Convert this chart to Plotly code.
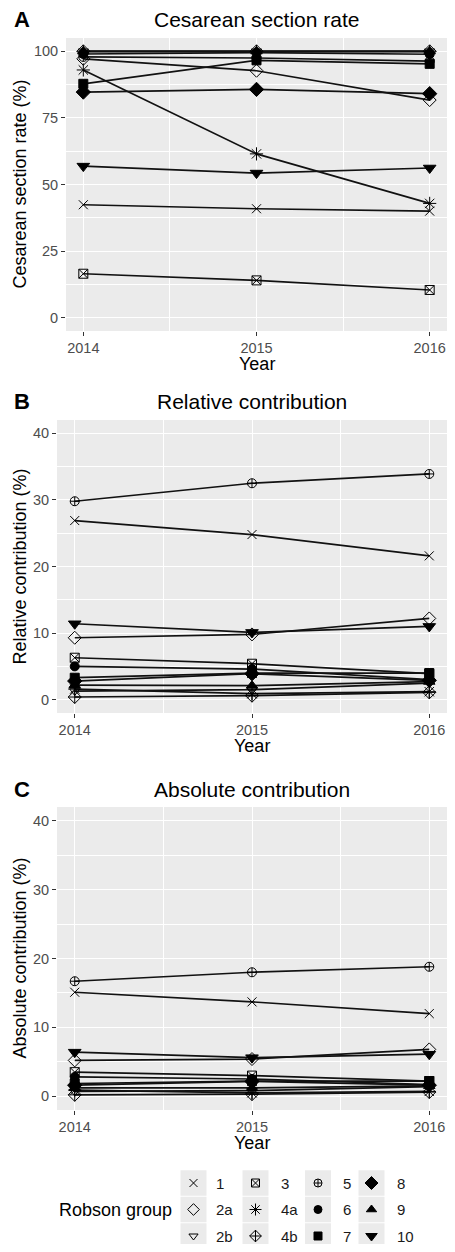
import plotly.graph_objects as go

# ---------------- data ----------------
years = [2014, 2015, 2016]
groups = ["1", "2a", "2b", "3", "4a", "4b", "5", "6", "7", "8", "9", "10"]

# Panel A: Cesarean section rate (%)  (order follows `groups`)
rate_2014 = [42.4, 97.2, 100.0, 16.5, 93.0, 100.0, 97.9, 99.0, 87.8, 84.7, 100.0, 56.9]
rate_2015 = [40.9, 92.7, 100.0, 14.0, 61.5, 100.0, 97.5, 99.5, 96.6, 85.7, 100.0, 54.3]
rate_2016 = [40.0, 81.7, 100.0, 10.4, 42.9, 100.0, 96.3, 98.9, 95.3, 84.1, 100.0, 56.2]

# Panel B: Relative contribution (%)
rel_2014 = [26.9, 9.3, 1.3, 6.3, 1.6, 0.4, 29.8, 5.0, 3.3, 2.8, 2.2, 11.4]
rel_2015 = [24.8, 9.8, 1.5, 5.4, 0.9, 0.6, 32.5, 4.6, 4.0, 3.9, 2.1, 10.1]
rel_2016 = [21.6, 12.2, 2.5, 3.9, 1.2, 1.1, 33.9, 3.0, 4.0, 2.9, 2.7, 11.0]

# Panel C: Absolute contribution (%)
abs_2014 = [15.1, 5.2, 0.7, 3.5, 0.9, 0.2, 16.7, 2.8, 1.85, 1.6, 1.2, 6.4]
abs_2015 = [13.7, 5.4, 0.8, 3.0, 0.5, 0.3, 18.0, 2.5, 2.2, 2.15, 1.2, 5.6]
abs_2016 = [12.0, 6.8, 1.4, 2.2, 0.7, 0.6, 18.8, 1.7, 2.2, 1.6, 1.5, 6.1]

panel_titles = ["Cesarean section rate", "Relative contribution", "Absolute contribution"]
panel_letters = ["A", "B", "C"]
y_titles = ["Cesarean section rate (%)", "Relative contribution (%)", "Absolute contribution (%)"]
y_ticks_a = [0, 25, 50, 75, 100]
y_ticks_bc = [0, 10, 20, 30, 40]
legend_title = "Robson group"

# ---------------- styles ----------------
symbols = ["x-thin-open", "diamond-open", "triangle-down-open", "square-x-open",
           "asterisk-open", "diamond-cross-open", "circle-cross-open", "circle",
           "square", "diamond", "triangle-up", "triangle-down"]
sizes = [9, 10, 9, 9, 11, 10, 9, 9, 9, 11, 10, 11]

PAGE_W, PAGE_H = 455, 1252
OFF = 8                      # default body margin of the html page
W, H = PAGE_W - 2 * OFF, PAGE_H - 2 * OFF
RIGHT = OFF + W              # right edge of visible figure (page px)
FONT = "Liberation Sans, Arial, Helvetica, sans-serif"
PANEL_BG = "#EBEBEB"
TICK_GREY = "#4D4D4D"


def fx(px):
    return (px - OFF) / W


def fy(py):
    return 1 - (py - OFF) / H


panels = [
    dict(x=(66, RIGHT), y=(38, 331), yr=[-5, 105], yt=y_ticks_a, ym=[12.5, 37.5, 62.5, 87.5],
         data=(rate_2014, rate_2015, rate_2016)),
    dict(x=(57, RIGHT), y=(420, 713), yr=[-2, 42], yt=y_ticks_bc, ym=[5, 15, 25, 35],
         data=(rel_2014, rel_2015, rel_2016)),
    dict(x=(57, RIGHT), y=(807, 1110), yr=[-2, 42], yt=y_ticks_bc, ym=[5, 15, 25, 35],
         data=(abs_2014, abs_2015, abs_2016)),
]

fig = go.Figure()
layout = dict(
    width=W, height=H, margin=dict(l=0, r=0, t=0, b=0),
    paper_bgcolor="white", plot_bgcolor="white", showlegend=False,
    font=dict(family=FONT, color="black"),
    shapes=[], annotations=[],
)

for i, p in enumerate(panels):
    sfx = "" if i == 0 else str(i + 1)
    xa, ya = "x" + sfx, "y" + sfx
    d14, d15, d16 = p["data"]
    # lines first
    for g in range(len(groups)):
        fig.add_trace(go.Scatter(
            x=years, y=[d14[g], d15[g], d16[g]], mode="lines",
            line=dict(color="#111111", width=1.7), xaxis=xa, yaxis=ya,
            hoverinfo="skip"))
    # then points
    for g in range(len(groups)):
        fig.add_trace(go.Scatter(
            x=years, y=[d14[g], d15[g], d16[g]], mode="markers", name=groups[g],
            marker=dict(symbol=symbols[g], size=sizes[g], color="black",
                        line=dict(color="black", width=1)),
            xaxis=xa, yaxis=ya))

    layout["xaxis" + sfx] = dict(
        domain=[fx(p["x"][0]), min(1.0, fx(p["x"][1]))], anchor=ya, range=[2013.9, 2016.1],
        tickvals=years, ticktext=[str(v) for v in years],
        ticks="outside", ticklen=4, tickwidth=1, tickcolor="#333333",
        tickfont=dict(size=14.5, color=TICK_GREY, family=FONT),
        ticklabeloverflow="allow",
        showgrid=True, gridcolor="white", gridwidth=1.3,
        minor=dict(tickvals=[2014.5, 2015.5], showgrid=True, gridcolor="white",
                   gridwidth=0.6, ticks=""),
        zeroline=False, showline=False, fixedrange=True)
    layout["yaxis" + sfx] = dict(
        domain=[fy(p["y"][1]), fy(p["y"][0])], anchor=xa, range=p["yr"],
        tickvals=p["yt"], ticks="outside", ticklen=4, tickwidth=1, tickcolor="#333333",
        tickfont=dict(size=14.5, color=TICK_GREY, family=FONT),
        showgrid=True, gridcolor="white", gridwidth=1.3,
        minor=dict(tickvals=p["ym"], showgrid=True, gridcolor="white",
                   gridwidth=0.6, ticks=""),
        zeroline=False, showline=False, fixedrange=True)

    layout["shapes"].append(dict(
        type="rect", xref=xa + " domain", yref=ya + " domain", x0=0, x1=1, y0=0, y1=1,
        fillcolor=PANEL_BG, line=dict(width=0), layer="below"))

    cx = (p["x"][0] + p["x"][1]) / 2
    # panel title
    layout["annotations"].append(dict(
        text=panel_titles[i], xref="paper", yref="paper", x=fx(cx),
        y=fy(p["y"][0] - 18), showarrow=False, xanchor="center", yanchor="middle",
        font=dict(size=21, color="black", family=FONT)))
    # panel letter
    layout["annotations"].append(dict(
        text="<b>" + panel_letters[i] + "</b>", xref="paper", yref="paper", x=fx(12),
        y=fy(p["y"][0] - 18), showarrow=False, xanchor="left", yanchor="middle",
        font=dict(size=22, color="black", family=FONT)))
    # x title
    layout["annotations"].append(dict(
        text="Year", xref="paper", yref="paper", x=fx(cx),
        y=fy(p["y"][1] + 33), showarrow=False, xanchor="center", yanchor="middle",
        font=dict(size=18, color="black", family=FONT)))
    # y title
    layout["annotations"].append(dict(
        text=y_titles[i], xref="paper", yref="paper", x=fx(19),
        y=fy((p["y"][0] + p["y"][1]) / 2), showarrow=False, textangle=-90,
        xanchor="center", yanchor="middle",
        font=dict(size=18, color="black", family=FONT)))

# ---------------- manual legend (3 rows x 4 columns, column-major) ----------------
leg_top = 1166
leg_bottom = PAGE_H - OFF
col_key_x = [193.5, 255.5, 318, 371.5]
col_lab_x = [214, 279, 341, 395]
row_y = [1183, 1209.5, 1236]
key_w, key_h = 26, 25.5

layout["xaxis4"] = dict(domain=[0, 1], range=[OFF, RIGHT], visible=False, anchor="y4",
                        fixedrange=True)
layout["yaxis4"] = dict(domain=[0, fy(leg_top)], range=[leg_bottom, leg_top], visible=False,
                        anchor="x4", fixedrange=True)

for g, name in enumerate(groups):
    c, r = g // 3, g % 3
    kx, ky = col_key_x[c], row_y[r]
    layout["shapes"].append(dict(
        type="rect", xref="x4", yref="y4", x0=kx - key_w / 2, x1=kx + key_w / 2,
        y0=ky - key_h / 2, y1=ky + key_h / 2, fillcolor=PANEL_BG, line=dict(width=0),
        layer="below"))
    fig.add_trace(go.Scatter(
        x=[kx], y=[ky], mode="markers", xaxis="x4", yaxis="y4", hoverinfo="skip",
        marker=dict(symbol=symbols[g], size=sizes[g] - 1, color="black",
                    line=dict(color="black", width=1))))
    layout["annotations"].append(dict(
        text=name, xref="x4", yref="y4", x=col_lab_x[c], y=ky, showarrow=False,
        xanchor="left", yanchor="middle", font=dict(size=15, color="#1a1a1a", family=FONT)))

layout["annotations"].append(dict(
    text=legend_title, xref="x4", yref="y4", x=57, y=row_y[1], showarrow=False,
    xanchor="left", yanchor="middle", font=dict(size=18, color="black", family=FONT)))

fig.update_layout(**layout)
fig.write_html("out.html")
